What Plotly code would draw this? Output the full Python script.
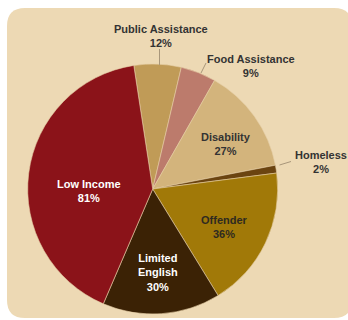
import plotly.graph_objects as go

# Share of clients by barrier type (percent of clients; a client can have several)
categories = ["Public Assistance", "Food Assistance", "Disability", "Homeless",
              "Offender", "Limited English", "Low Income"]
percents = [12, 9, 27, 2, 36, 30, 81]
label_lines = [["Public Assistance"], ["Food Assistance"], ["Disability"], ["Homeless"],
               ["Offender"], ["Limited", "English"], ["Low Income"]]

colors = ["#C09B57", "#BC7B6C", "#D3B47C", "#6B4410", "#A17908", "#3B2205", "#8B1319"]
text_colors = ["#333333", "#333333", "#333333", "#333333", "#2E2A20", "#FFFFFF", "#FFFFFF"]

W, H = 348, 320
# pie geometry in pixels
cx, cy, r = 152.7, 189.0, 125.0
# label block centres in pixels
label_xy = [(161, 36.5), (251, 65.5), (225.5, 144), (321, 162),
            (224.5, 227), (158, 272.5), (89, 190.5)]
# leader lines for labels placed outside the pie
leaders = [((159.5, 49), (159.5, 65)), ((206, 63), (201, 73)), ((279.5, 165), (291, 161.5))]


def px(x):
    return x / W


def py(y):
    return 1 - y / H


fig = go.Figure(go.Pie(
    labels=categories,
    values=percents,
    sort=False,
    direction="clockwise",
    rotation=-8.7,
    textinfo="none",
    hoverinfo="label+value",
    marker=dict(colors=colors, line=dict(color="#E6CFA6", width=0.6)),
    domain=dict(x=[px(cx - r), px(cx + r)], y=[py(cy + r), py(cy - r)]),
    showlegend=False,
))

# rounded beige panel behind the chart
x0, y0, x1, y1, rad = px(7), py(318), px(352), py(8), 18
rx, ry = rad / W, rad / H
panel = (f"M {x0+rx},{y0} L {x1-rx},{y0} Q {x1},{y0} {x1},{y0+ry} "
         f"L {x1},{y1-ry} Q {x1},{y1} {x1-rx},{y1} L {x0+rx},{y1} "
         f"Q {x0},{y1} {x0},{y1-ry} L {x0},{y0+ry} Q {x0},{y0} {x0+rx},{y0} Z")
shapes = [dict(type="path", path=panel, xref="paper", yref="paper",
               fillcolor="#EDD9B4", line=dict(width=0), layer="below")]
for (a, b) in leaders:
    shapes.append(dict(type="line", xref="paper", yref="paper",
                       x0=px(a[0]), y0=py(a[1]), x1=px(b[0]), y1=py(b[1]),
                       line=dict(color="#A8967A", width=1)))

annotations = []
for lines, v, (lx, ly), tc in zip(label_lines, percents, label_xy, text_colors):
    annotations.append(dict(
        x=px(lx), y=py(ly), xref="paper", yref="paper",
        text="<br>".join(f"<b>{t}</b>" for t in lines + [f"{v}%"]),
        showarrow=False, align="center", xanchor="center", yanchor="middle",
        font=dict(family="Arial, Liberation Sans, sans-serif", size=11, color=tc),
    ))

fig.update_layout(
    width=W, height=H,
    margin=dict(l=0, r=0, t=0, b=0),
    paper_bgcolor="#FFFFFF",
    plot_bgcolor="#FFFFFF",
    shapes=shapes,
    annotations=annotations,
)

fig.write_html("out.html")
